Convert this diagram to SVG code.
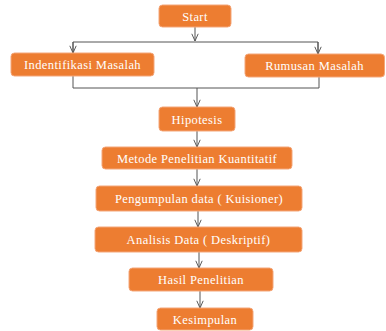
<svg xmlns="http://www.w3.org/2000/svg" width="386" height="331" viewBox="0 0 386 331">
<style>
.box{fill:#ED7D31;stroke:#F4A77A;stroke-width:1}
.t{font-family:"Liberation Serif","DejaVu Serif",serif;font-size:12.5px;fill:#fff;text-anchor:middle;dominant-baseline:central;letter-spacing:0.4px}
.c{fill:none;stroke:#555;stroke-width:1}
</style>
<defs>
<marker id="a" viewBox="0 0 10 10" refX="10" refY="5" markerWidth="8" markerHeight="8" markerUnits="userSpaceOnUse" orient="auto">
<path d="M1,1 L10,5 L1,9" fill="none" stroke="#555" stroke-width="1.2"/>
</marker>
</defs>
<rect width="386" height="331" fill="#fff"/>
<g id="connectors">
<path class="c" d="M195,27 V41" marker-end="url(#a)"/>
<path class="c" d="M73,52 V42 H318 V52"/>
<path class="c" d="M73,42 V53" marker-end="url(#a)"/>
<path class="c" d="M318,42 V54" marker-end="url(#a)"/>
<path class="c" d="M73,76 V88 H319 V77"/>
<path class="c" d="M197,88 V107" marker-end="url(#a)"/>
<path class="c" d="M197,131 V147" marker-end="url(#a)"/>
<path class="c" d="M197,169 V186" marker-end="url(#a)"/>
<path class="c" d="M198,211 V227" marker-end="url(#a)"/>
<path class="c" d="M199,252 V268" marker-end="url(#a)"/>
<path class="c" d="M200,291 V308" marker-end="url(#a)"/>
</g>
<g id="start"><rect class="box" x="159" y="5" width="72" height="22" rx="3.5"/><text class="t" x="195" y="16.5">Start</text></g>
<g id="identifikasi"><rect class="box" x="11" y="53" width="143" height="23" rx="3.5"/><text class="t" x="82.5" y="65">Indentifikasi Masalah</text></g>
<g id="rumusan"><rect class="box" x="245" y="54" width="139.5" height="23" rx="3.5"/><text class="t" x="314.5" y="66">Rumusan Masalah</text></g>
<g id="hipotesis"><rect class="box" x="159" y="107" width="76" height="24" rx="3.5"/><text class="t" x="197" y="119.5">Hipotesis</text></g>
<g id="metode"><rect class="box" x="102" y="147" width="190" height="22" rx="3.5"/><text class="t" x="197" y="158.5">Metode Penelitian Kuantitatif</text></g>
<g id="pengumpulan"><rect class="box" x="96" y="186" width="206" height="25" rx="3.5"/><text class="t" x="199" y="199">Pengumpulan data ( Kuisioner)</text></g>
<g id="analisis"><rect class="box" x="95" y="227" width="207" height="25" rx="3.5"/><text class="t" x="198.5" y="240">Analisis Data ( Deskriptif)</text></g>
<g id="hasil"><rect class="box" x="129" y="268" width="144" height="23" rx="3.5"/><text class="t" x="201" y="280">Hasil Penelitian</text></g>
<g id="kesimpulan"><rect class="box" x="157" y="308" width="96" height="22" rx="3.5"/><text class="t" x="205" y="319.5">Kesimpulan</text></g>
</svg>
